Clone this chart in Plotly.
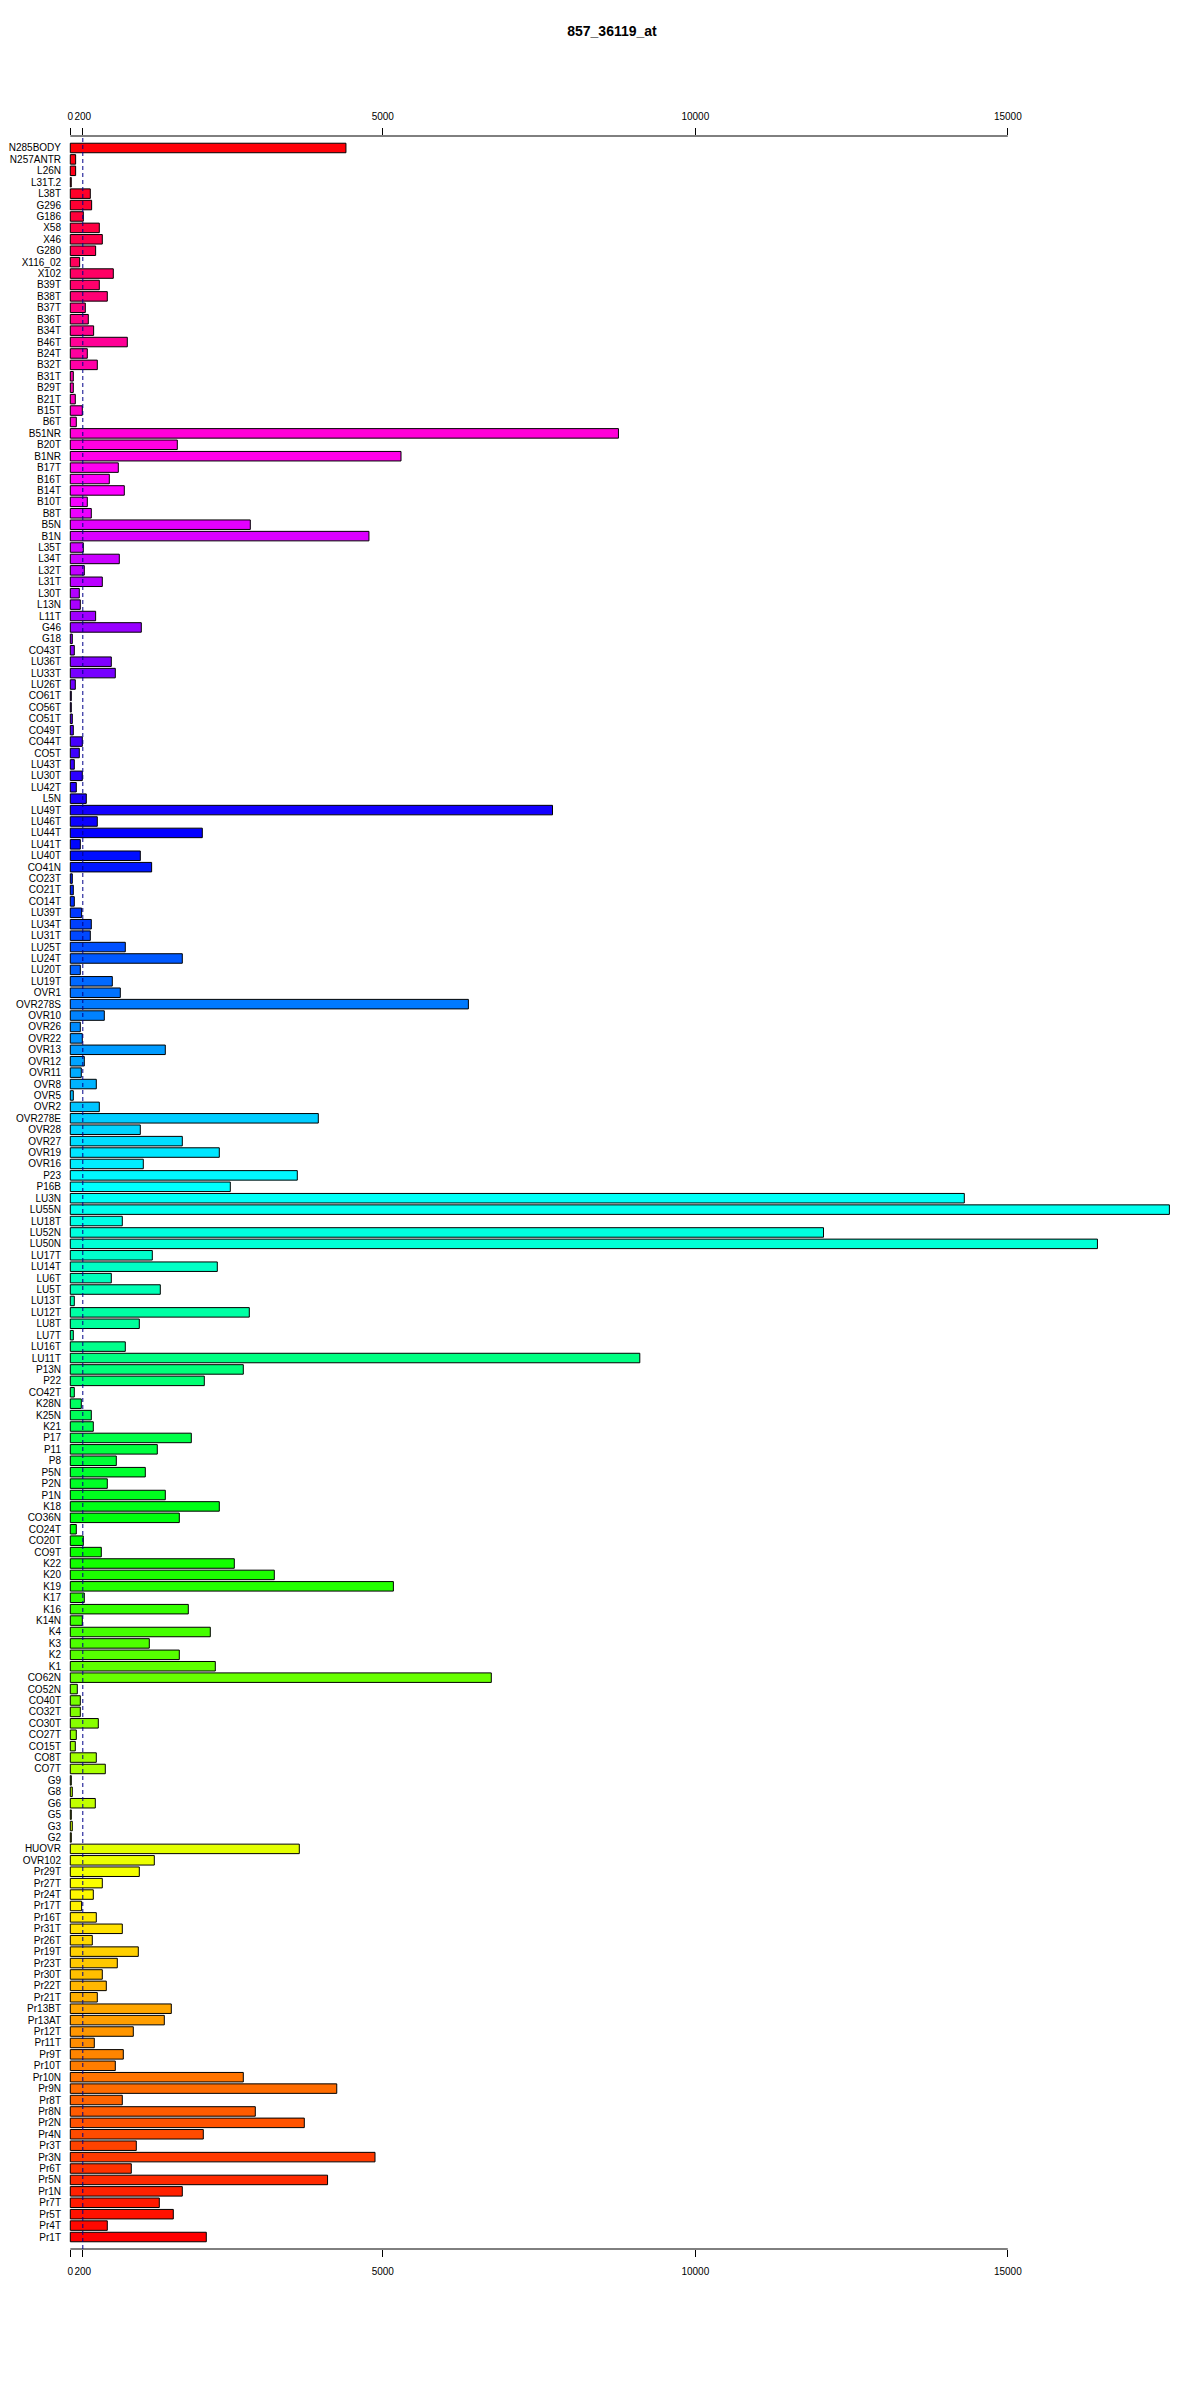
import colorsys
import plotly.graph_objects as go

labels = ["N285BODY","N257ANTR","L26N","L31T.2","L38T","G296","G186","X58","X46","G280",
"X116_02","X102","B39T","B38T","B37T","B36T","B34T","B46T","B24T","B32T",
"B31T","B29T","B21T","B15T","B6T","B51NR","B20T","B1NR","B17T","B16T",
"B14T","B10T","B8T","B5N","B1N","L35T","L34T","L32T","L31T","L30T",
"L13N","L11T","G46","G18","CO43T","LU36T","LU33T","LU26T","CO61T","CO56T",
"CO51T","CO49T","CO44T","CO5T","LU43T","LU30T","LU42T","L5N","LU49T","LU46T",
"LU44T","LU41T","LU40T","CO41N","CO23T","CO21T","CO14T","LU39T","LU34T","LU31T",
"LU25T","LU24T","LU20T","LU19T","OVR1","OVR278S","OVR10","OVR26","OVR22","OVR13",
"OVR12","OVR11","OVR8","OVR5","OVR2","OVR278E","OVR28","OVR27","OVR19","OVR16",
"P23","P16B","LU3N","LU55N","LU18T","LU52N","LU50N","LU17T","LU14T","LU6T",
"LU5T","LU13T","LU12T","LU8T","LU7T","LU16T","LU11T","P13N","P22","CO42T",
"K28N","K25N","K21","P17","P11","P8","P5N","P2N","P1N","K18",
"CO36N","CO24T","CO20T","CO9T","K22","K20","K19","K17","K16","K14N",
"K4","K3","K2","K1","CO62N","CO52N","CO40T","CO32T","CO30T","CO27T",
"CO15T","CO8T","CO7T","G9","G8","G6","G5","G3","G2","HUOVR",
"OVR102","Pr29T","Pr27T","Pr24T","Pr17T","Pr16T","Pr31T","Pr26T","Pr19T","Pr23T",
"Pr30T","Pr22T","Pr21T","Pr13BT","Pr13AT","Pr12T","Pr11T","Pr9T","Pr10T","Pr10N",
"Pr9N","Pr8T","Pr8N","Pr2N","Pr4N","Pr3T","Pr3N","Pr6T","Pr5N","Pr1N",
"Pr7T","Pr5T","Pr4T","Pr1T"]

values = [4410,85,85,15,320,341,208,464,512,405,
149,688,464,592,240,288,373,912,272,432,
48,48,80,192,96,8770,1712,5291,768,624,
864,272,336,2880,4778,208,784,224,512,144,
160,405,1136,32,64,656,720,80,16,16,
32,48,192,144,64,192,96,256,7715,432,
2112,160,1120,1301,32,48,64,181,336,320,
880,1792,160,672,800,6369,544,160,192,1520,
224,176,416,48,464,3968,1120,1792,2384,1168,
3632,2560,14304,17585,832,12051,16434,1312,2352,656,
1440,64,2864,1104,48,880,9112,2768,2144,64,
176,336,368,1936,1392,736,1200,592,1520,2384,
1744,96,208,496,2624,3264,5169,224,1888,192,
2240,1264,1744,2320,6736,112,160,160,448,96,
80,416,560,16,32,400,16,32,16,3664,
1344,1104,512,368,181,416,832,352,1088,752,
512,576,432,1616,1504,1008,384,848,720,2768,
4263,832,2960,3744,2128,1056,4875,976,4116,1792,
1424,1648,592,2176]

tick_vals = [0, 200, 5000, 10000, 15000]
tick_text = ["0", "200", "5000", "10000", "15000"]
threshold = 200
title = "857_36119_at"

n = len(labels)
colors = []
for i in range(n):
    h = (n - 1 - i) / n
    r, g, b = colorsys.hsv_to_rgb(h, 1, 1)
    colors.append("rgb(%d,%d,%d)" % (round(r * 255), round(g * 255), round(b * 255)))

FONT = "Liberation Sans, Arial, sans-serif"
W, H = 1192, 2392

fig = go.Figure()
fig.add_trace(go.Bar(
    x=values, y=labels, orientation="h",
    marker=dict(color=colors, line=dict(color="black", width=1)),
    showlegend=False,
))
fig.add_trace(go.Scatter(
    x=[0], y=[labels[0]], xaxis="x2", mode="markers",
    marker=dict(opacity=0), showlegend=False, hoverinfo="skip",
))

x_range = [-133, 17995]
fig.update_layout(
    width=W, height=H,
    margin=dict(l=54, r=5, t=128, b=151, autoexpand=False),
    paper_bgcolor="white", plot_bgcolor="white",
    bargap=0.167,
    font=dict(family=FONT, size=10, color="black"),
    title=dict(text="<b>%s</b>" % title, x=604 / W, xref="container", xanchor="center",
               y=1 - 23 / H, yref="container", yanchor="middle",
               font=dict(family=FONT, size=14, color="black")),
    xaxis=dict(range=x_range, tickmode="array", tickvals=tick_vals, ticktext=tick_text,
               ticks="outside", ticklen=7, tickcolor="black", showline=False,
               showgrid=False, zeroline=False, tickfont=dict(size=10),
               tickangle=0, automargin=False, ticklabelstandoff=6),
    xaxis2=dict(range=x_range, overlaying="x", side="top", matches="x",
                tickmode="array", tickvals=tick_vals, ticktext=tick_text,
                ticks="outside", ticklen=7, tickcolor="black", showline=False,
                showgrid=False, zeroline=False, tickfont=dict(size=10),
                tickangle=0, automargin=False, ticklabelstandoff=4),
    yaxis=dict(type="category", categoryorder="array", categoryarray=labels,
               range=[n - 1 + 1.05, -1.05], tickmode="array", tickvals=labels,
               ticktext=labels, ticks="", showline=False, showgrid=False,
               zeroline=False, tickfont=dict(size=10), automargin=False),
    shapes=[
        dict(type="line", xref="x", yref="paper", x0=0, x1=15000, y0=1, y1=1,
             line=dict(color="black", width=1)),
        dict(type="line", xref="x", yref="paper", x0=0, x1=15000, y0=0, y1=0,
             line=dict(color="black", width=1)),
        dict(type="line", xref="x", yref="paper", x0=threshold, x1=threshold, y0=0, y1=1,
             line=dict(color="#00008B", width=1, dash="4px,3px"), layer="above"),
    ],
)

fig.write_html("out.html")
